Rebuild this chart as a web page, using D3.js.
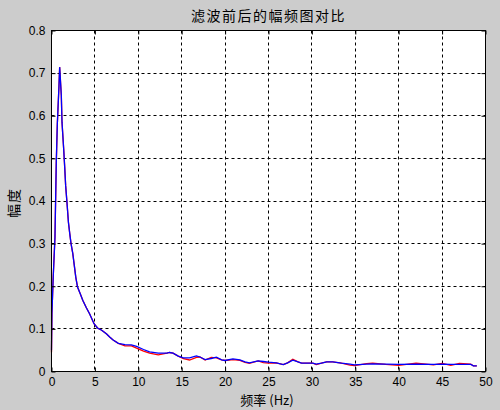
<!DOCTYPE html>
<html>
<head>
<meta charset="utf-8">
<script src="https://cdn.jsdelivr.net/npm/d3@7"></script>
<style>
html,body{margin:0;padding:0;background:#cccccc;}
svg{display:block;}
text{font-family:"Liberation Sans","DejaVu Sans",Arial,sans-serif;}
.cjk{font-family:"Noto Sans CJK SC","Noto Sans",sans-serif;}
</style>
</head>
<body>
<script>
const title = "滤波前后的幅频图对比";
const xLabel = "频率 (Hz)";
const yLabel = "幅度";
const xTicks = [0,5,10,15,20,25,30,35,40,45,50];
const yTicks = [0,0.1,0.2,0.3,0.4,0.5,0.6,0.7,0.8];

const freq = [0,0.05,0.2,0.4,0.55,0.67,0.86,0.94,1.01,1.13,1.21,1.4,1.52,1.63,1.78,1.95,2.1,2.25,2.45,2.6,2.8,3.0,3.3,3.6,4.0,4.4,4.9,5.3,5.6,5.9,6.35,6.7,7.1,7.7,8.46,9.2,9.8,10.6,11.3,12.3,13.3,13.6,14.0,14.6,15.2,15.9,16.7,17.1,17.7,18.4,19.0,19.6,20.0,20.9,21.7,22.3,22.8,23.8,24.4,25.0,25.9,26.7,27.2,27.8,28.4,28.8,30.1,30.5,31.1,31.7,32.4,33.4,34.4,34.9,36.3,37.0,38.5,40.0,42.0,44.0,45.0,46.0,47.0,48.3,48.6,49.0];

// after filtering (blue)
const blueVals = [0.05,0.136,0.223,0.315,0.49,0.58,0.669,0.714,0.69,0.648,0.585,0.523,0.48,0.436,0.397,0.35,0.324,0.30,0.277,0.253,0.221,0.198,0.183,0.167,0.15,0.135,0.112,0.102,0.099,0.095,0.088,0.081,0.074,0.066,0.063,0.0626,0.0587,0.0516,0.046,0.043,0.043,0.0446,0.043,0.036,0.032,0.032,0.0368,0.034,0.028,0.0305,0.0336,0.0274,0.0258,0.0297,0.0274,0.0227,0.0204,0.025,0.0235,0.0219,0.0204,0.0164,0.0204,0.0266,0.0227,0.0196,0.0196,0.0172,0.0196,0.0227,0.0227,0.0196,0.0172,0.0157,0.0172,0.018,0.0172,0.0165,0.0172,0.0165,0.0172,0.0165,0.0165,0.0165,0.0134,0.0134];

// before filtering (red)
const redVals = [0.045,0.136,0.223,0.315,0.49,0.58,0.669,0.714,0.69,0.648,0.585,0.523,0.48,0.436,0.397,0.35,0.324,0.30,0.277,0.253,0.221,0.198,0.183,0.167,0.15,0.135,0.112,0.102,0.099,0.095,0.088,0.081,0.074,0.066,0.06,0.06,0.055,0.048,0.043,0.039,0.043,0.0446,0.043,0.036,0.03,0.027,0.033,0.034,0.027,0.033,0.032,0.0274,0.0258,0.028,0.026,0.0215,0.019,0.025,0.021,0.020,0.0204,0.016,0.0204,0.029,0.0227,0.0196,0.0196,0.016,0.0196,0.0227,0.0227,0.0196,0.015,0.014,0.0185,0.0195,0.0165,0.0145,0.0195,0.0155,0.019,0.0145,0.019,0.0175,0.0134,0.0134];

const W = 500, H = 410;
const L = 51.5, R = 485.5, T = 30.5, B = 371.5;

const svg = d3.select("body").append("svg").attr("width", W).attr("height", H);
svg.append("rect").attr("width", W).attr("height", H).attr("fill", "#cccccc");

const x = d3.scaleLinear().domain([0,50]).range([L,R]);
const y = d3.scaleLinear().domain([0,0.8]).range([B,T]);

svg.append("rect").attr("x", L).attr("y", T).attr("width", R-L).attr("height", B-T).attr("fill", "#ffffff");

const snap = v => Math.round(v - 0.5) + 0.5;

// grid
const grid = svg.append("g").attr("stroke", "#000").attr("stroke-width", 1).attr("stroke-dasharray", "3,3").attr("fill","none");
xTicks.slice(1, -1).forEach(t => {
  grid.append("line").attr("x1", snap(x(t))).attr("x2", snap(x(t))).attr("y1", T).attr("y2", B);
});
yTicks.slice(1, -1).forEach(t => {
  grid.append("line").attr("y1", snap(y(t))).attr("y2", snap(y(t))).attr("x1", L).attr("x2", R);
});

// lines
const pts = vals => freq.map((f, i) => [f, vals[i]]);
const line = d3.line().x(d => x(d[0])).y(d => y(d[1]));
svg.append("path").attr("d", line(pts(redVals))).attr("fill","none").attr("stroke","#ff0000").attr("stroke-width",1.3);
svg.append("path").attr("d", line(pts(blueVals))).attr("fill","none").attr("stroke","#0000ff").attr("stroke-width",1.3);

// axes (ticks inward)
const xAxisB = d3.axisBottom(x).tickValues(xTicks).tickSize(-4).tickPadding(6).tickFormat(d3.format("d"));
const xAxisT = d3.axisTop(x).tickValues(xTicks).tickSize(-4).tickFormat("");
const yAxisL = d3.axisLeft(y).tickValues(yTicks).tickSize(-4).tickPadding(6).tickFormat(d => d === 0 ? "0" : d3.format(".1f")(d));
const yAxisR = d3.axisRight(y).tickValues(yTicks).tickSize(-4).tickFormat("");

function style(g){
  g.select(".domain").remove();
  g.selectAll(".tick line").attr("stroke","#000");
  g.selectAll(".tick text").attr("fill","#000").attr("font-size","12px").attr("font-family","'Liberation Sans',Arial,sans-serif");
}
svg.append("g").attr("transform",`translate(0,${B})`).call(xAxisB).call(style);
svg.append("g").attr("transform",`translate(0,${T})`).call(xAxisT).call(style);
svg.append("g").attr("transform",`translate(${L},0)`).call(yAxisL).call(style);
svg.append("g").attr("transform",`translate(${R},0)`).call(yAxisR).call(style);

svg.append("rect").attr("x", L).attr("y", T).attr("width", R-L).attr("height", B-T)
  .attr("fill","none").attr("stroke","#000").attr("stroke-width",1);

// texts
svg.append("text").attr("class","cjk").attr("x", (L+R)/2).attr("y", 21)
  .attr("text-anchor","middle").attr("font-size","14px").attr("letter-spacing","1.5px").attr("fill","#000").text(title);
svg.append("text").attr("class","cjk").attr("x", 267).attr("y", 405)
  .attr("text-anchor","middle").attr("font-size","13px").attr("fill","#000").text(xLabel);
svg.append("text").attr("class","cjk").attr("transform","translate(18.5,203) rotate(-90)")
  .attr("text-anchor","middle").attr("font-size","14px").attr("letter-spacing","1px").attr("fill","#000").text(yLabel);
</script>
</body>
</html>
